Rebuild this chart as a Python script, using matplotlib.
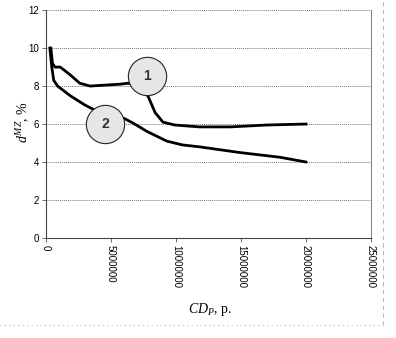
import matplotlib
matplotlib.use("Agg")
from matplotlib import pyplot as plt
from matplotlib.lines import Line2D

plt.rcParams["mathtext.fontset"] = "custom"
plt.rcParams["mathtext.rm"] = "Liberation Serif"
plt.rcParams["mathtext.it"] = "Liberation Serif:italic"

# curve 1
cd1 = [0.38e6, 0.5e6, 0.7e6, 1.1e6, 1.85e6, 2.6e6, 3.4e6, 4.5e6, 5.7e6, 6.3e6, 7.0e6,
       7.85e6, 8.4e6, 9.0e6, 9.9e6, 11.8e6, 14.2e6, 17.0e6, 20.0e6]
d1 = [10.0, 9.2, 9.0, 9.0, 8.6, 8.15, 8.0, 8.05, 8.1, 8.15, 8.1,
      7.47, 6.6, 6.1, 5.95, 5.85, 5.85, 5.95, 6.0]

# curve 2
cd2 = [0.3e6, 0.45e6, 0.6e6, 0.9e6, 1.85e6, 3.0e6, 4.15e6, 5.3e6, 6.0e6, 6.7e6, 7.8e6,
       9.3e6, 10.5e6, 11.8e6, 14.9e6, 18.0e6, 20.0e6]
d2 = [10.0, 9.0, 8.3, 8.0, 7.5, 7.0, 6.6, 6.35, 6.3, 6.05, 5.6,
      5.1, 4.9, 4.8, 4.5, 4.25, 4.0]

# numbered callouts
lab_x = [7.77e6, 4.54e6]
lab_y = [8.53, 6.0]
lab_txt = ["1", "2"]

xticks = [0, 5000000, 10000000, 15000000, 20000000, 25000000]
yticks = [0, 2, 4, 6, 8, 10, 12]

fig = plt.figure(figsize=(3.96, 3.38), dpi=100)
ax = fig.add_axes([0.116, 0.296, 0.821, 0.674])

ax.plot(cd1, d1, color="black", lw=2.0, zorder=3)
ax.plot(cd2, d2, color="black", lw=2.0, zorder=3)

ax.scatter(lab_x, lab_y, s=760, facecolor="#e6e6e6", edgecolor="#222222",
           linewidths=0.8, zorder=4)
for x, y, t in zip(lab_x, lab_y, lab_txt):
    ax.text(x, y, t, ha="center", va="center", fontsize=10, fontweight="bold",
            family="Liberation Sans", color="#333333", zorder=5)

ax.set_xlim(0, 25000000)
ax.set_ylim(0, 12)
ax.set_xticks(xticks)
ax.set_yticks(yticks)
ax.set_xticklabels([str(v) for v in xticks], rotation=-90, fontsize=7,
                   family="Liberation Sans")
ax.set_yticklabels([str(v) for v in yticks], fontsize=7, family="Liberation Sans")
ax.tick_params(axis="both", length=3, width=0.6, color="#555555", pad=2)
ax.grid(axis="y", linestyle=(0, (1, 1)), color="#777777", lw=0.7)
ax.set_axisbelow(True)

ax.spines["top"].set_visible(False)
ax.spines["right"].set_color("#888888")
ax.spines["right"].set_linewidth(0.8)
ax.spines["left"].set_color("#444444")
ax.spines["bottom"].set_color("#444444")

# axis titles
fig.text(0.058, 0.64, r"$d^{MZ}$, %", family="Liberation Serif", fontsize=10,
         rotation=90, ha="center", va="center")
fig.text(0.53, 0.083, r"$CD_P$, p.", family="Liberation Serif", fontsize=10,
         ha="center", va="center")

# page border lines
fig.add_artist(Line2D([0.0, 0.967], [0.038, 0.038], transform=fig.transFigure,
                      color="#bbbbbb", lw=0.8, linestyle=(0, (1, 3))))
fig.add_artist(Line2D([0.967, 0.967], [0.038, 1.0], transform=fig.transFigure,
                      color="#bbbbbb", lw=0.8, linestyle=(0, (4, 3))))

fig.savefig("out.png", dpi=100)
